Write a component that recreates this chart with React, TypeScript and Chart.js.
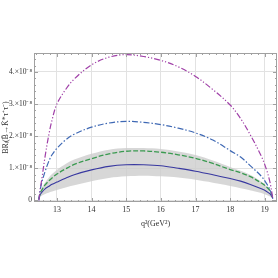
import React, { useEffect, useRef } from "react";
import { Chart, registerables } from "chart.js";
Chart.register(...registerables);

// q^2 sample points (GeV^2)
const q2 = [12.48, 12.52, 12.57, 12.66, 12.76, 12.86, 13, 13.25, 13.5, 14, 14.5, 15, 15.5, 16, 16.5, 17, 17.5, 18, 18.3, 18.6, 18.9, 19.05, 19.15, 19.23];
// values in units of 1e-8
const magenta = [0, 0.35, 0.7, 1.37, 2.0, 2.5, 3.0, 3.45, 3.78, 4.22, 4.46, 4.54, 4.48, 4.36, 4.16, 3.86, 3.45, 2.97, 2.55, 2.0, 1.37, 0.95, 0.55, 0.05];
const blueDashDot = [0, 0.33, 0.58, 0.9, 1.2, 1.42, 1.62, 1.88, 2.06, 2.28, 2.41, 2.46, 2.43, 2.36, 2.25, 2.1, 1.88, 1.55, 1.35, 1.06, 0.75, 0.52, 0.33, 0.05];
const greenDashed = [0.05, 0.23, 0.33, 0.48, 0.6, 0.7, 0.82, 0.98, 1.12, 1.3, 1.45, 1.53, 1.54, 1.5, 1.42, 1.31, 1.15, 0.96, 0.86, 0.73, 0.54, 0.42, 0.3, 0.08];
const navySolid = [0.05, 0.18, 0.26, 0.36, 0.43, 0.5, 0.57, 0.69, 0.8, 0.95, 1.06, 1.11, 1.11, 1.08, 1.0, 0.91, 0.8, 0.68, 0.6, 0.49, 0.36, 0.28, 0.2, 0.07];
const bandUpper = [0.08, 0.28, 0.4, 0.56, 0.7, 0.82, 0.95, 1.13, 1.27, 1.45, 1.58, 1.63, 1.63, 1.6, 1.52, 1.41, 1.24, 1.04, 0.92, 0.78, 0.58, 0.45, 0.32, 0.1];
const bandLower = [0.03, 0.1, 0.15, 0.2, 0.24, 0.28, 0.32, 0.4, 0.47, 0.6, 0.7, 0.75, 0.77, 0.75, 0.71, 0.64, 0.55, 0.45, 0.38, 0.31, 0.23, 0.17, 0.12, 0.04];

const xTicks = [13, 14, 15, 16, 17, 18, 19];
const yTicks = [0, 1, 2, 3, 4];
const yTickLabels = ["0", "1.\u00d710\u207b\u2078", "2.\u00d710\u207b\u2078", "3.\u00d710\u207b\u2078", "4.\u00d710\u207b\u2078"];

const pts = (ys: number[]) => ys.map((y, i) => ({ x: q2[i], y }));

const framePlugin = {
  id: "frame",
  afterDatasetsDraw(chart: any) {
    const { ctx, chartArea: a, scales } = chart;
    const xs = scales.x, ys = scales.y;
    ctx.save();
    ctx.strokeStyle = "#a0a0a0";
    ctx.lineWidth = 1;
    ctx.strokeRect(a.left + 0.5, a.top + 0.5, a.right - a.left - 1, a.bottom - a.top - 1);
    ctx.beginPath();
    for (let v = 12.4; v <= 19.35; v += 0.2) {
      const major = Math.abs(v - Math.round(v)) < 0.01;
      const px = Math.round(xs.getPixelForValue(v)) + 0.5;
      if (px < a.left || px > a.right) continue;
      const L = major ? 4 : 2;
      ctx.moveTo(px, a.bottom); ctx.lineTo(px, a.bottom - L);
      ctx.moveTo(px, a.top); ctx.lineTo(px, a.top + L);
    }
    for (let v = 0; v <= 4.6; v += 0.2) {
      const major = Math.abs(v - Math.round(v)) < 0.01;
      const py = Math.round(ys.getPixelForValue(v)) + 0.5;
      if (py < a.top || py > a.bottom) continue;
      const L = major ? 4 : 2;
      ctx.moveTo(a.left, py); ctx.lineTo(a.left + L, py);
      ctx.moveTo(a.right, py); ctx.lineTo(a.right - L, py);
    }
    ctx.stroke();
    ctx.restore();
  },
};

export default function App() {
  const ref = useRef<HTMLCanvasElement>(null);
  useEffect(() => {
    const line = { pointRadius: 0, fill: false, tension: 0.35, order: 1 };
    const chart = new Chart(ref.current!, {
      type: "line",
      data: {
        datasets: [
          { data: pts(bandUpper), borderWidth: 0, pointRadius: 0, backgroundColor: "rgba(205,205,205,0.8)", fill: "+1", tension: 0.35, order: 5 },
          { data: pts(bandLower), borderWidth: 0, pointRadius: 0, fill: false, tension: 0.35, order: 5 },
          { ...line, data: pts(magenta), borderColor: "#a040a8", borderWidth: 1.2, borderDash: [6, 2, 1.2, 2, 1.2, 2] },
          { ...line, data: pts(blueDashDot), borderColor: "#3e68b4", borderWidth: 1.2, borderDash: [6, 2, 1.5, 2] },
          { ...line, data: pts(greenDashed), borderColor: "#3a9a50", borderWidth: 1.3, borderDash: [5, 2] },
          { ...line, data: pts(navySolid), borderColor: "#3838a0", borderWidth: 1.1 },
        ],
      },
      options: {
        animation: false,
        responsive: false,
        maintainAspectRatio: false,
        layout: { padding: { top: 53, right: 1, bottom: 48, left: 0 } },
        plugins: { legend: { display: false }, tooltip: { enabled: false } },
        scales: {
          x: {
            type: "linear",
            min: 12.34,
            max: 19.35,
            afterFit: (s: any) => { s.height = 28; },
            afterBuildTicks: (s: any) => { s.ticks = xTicks.map((v) => ({ value: v })); },
            grid: { color: "#e2e2e2", drawTicks: false },
            border: { display: false },
            ticks: { padding: 3, color: "#333", font: { family: "Liberation Serif", size: 8 }, maxRotation: 0 },
            title: { display: true, text: "q\u00b2(GeV\u00b2)", color: "#333", font: { family: "Liberation Serif", size: 8 }, padding: { top: 0, bottom: 1 } },
          },
          y: {
            min: -0.05,
            max: 4.59,
            afterFit: (s: any) => { s.width = 34; },
            afterBuildTicks: (s: any) => { s.ticks = yTicks.map((v) => ({ value: v })); },
            grid: { color: "#e2e2e2", drawTicks: false },
            border: { display: false },
            ticks: {
              padding: 2,
              color: "#333",
              font: { family: "Liberation Serif", size: 7.5 },
              callback: (v: any) => { const i = yTicks.indexOf(Number(v)); return i >= 0 ? yTickLabels[i] : ""; },
            },
            title: { display: true, text: "BR\u2097(B\u0304\u2192K\u0304*\u03c4\u207a\u03c4\u207b)", color: "#333", font: { family: "Liberation Serif", size: 8 }, padding: { top: 1, bottom: 0 } },
          },
        },
      },
      plugins: [framePlugin],
    } as any);
    return () => chart.destroy();
  }, []);
  return (
    <div style={{ position: "fixed", left: 0, top: 0, width: 278, height: 278, background: "#fff" }}>
      <canvas ref={ref} width={278} height={278} style={{ width: 278, height: 278 }} />
    </div>
  );
}
